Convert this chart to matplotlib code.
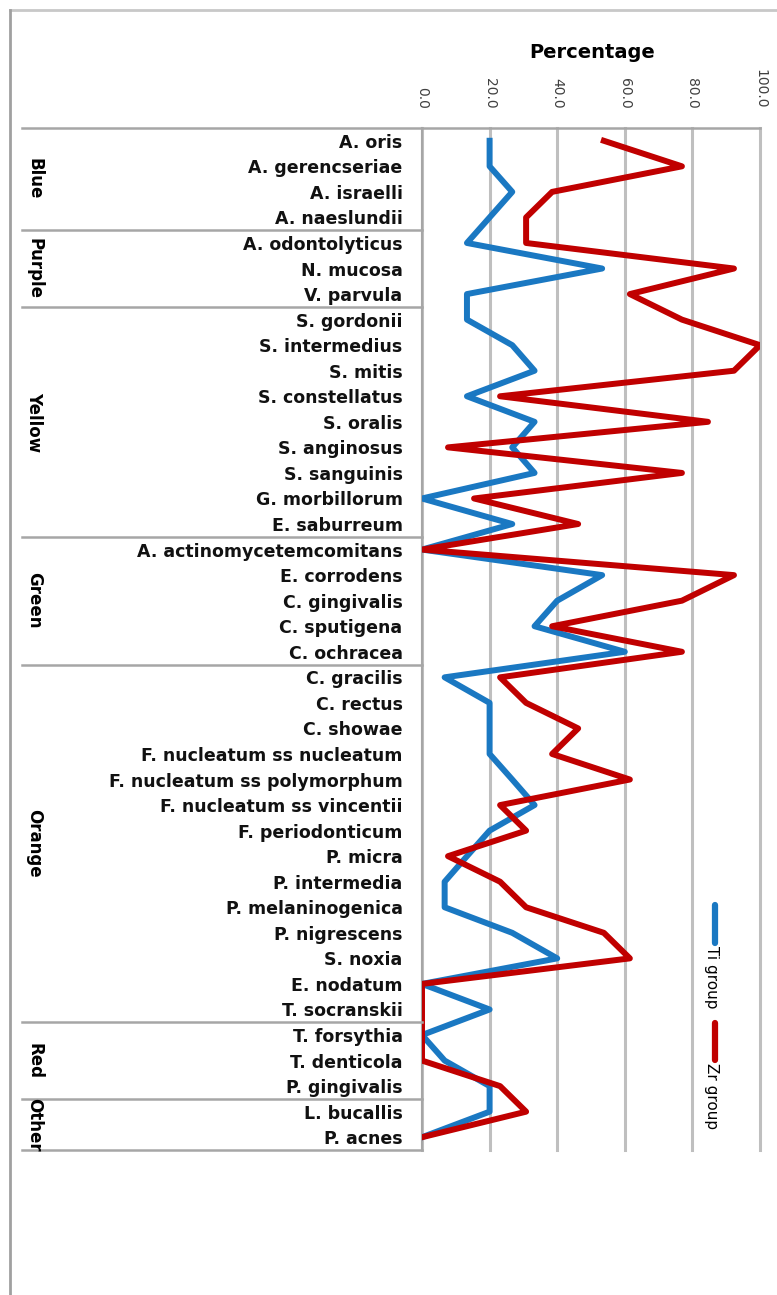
import matplotlib
matplotlib.use("Agg")
import matplotlib.pyplot as plt
from matplotlib.lines import Line2D
import matplotlib.transforms as mtransforms

# ---------------- data ----------------
species = [
    "A. oris", "A. gerencseriae", "A. israelli", "A. naeslundii",
    "A. odontolyticus", "N. mucosa", "V. parvula",
    "S. gordonii", "S. intermedius", "S. mitis", "S. constellatus", "S. oralis",
    "S. anginosus", "S. sanguinis", "G. morbillorum", "E. saburreum",
    "A. actinomycetemcomitans", "E. corrodens", "C. gingivalis", "C. sputigena",
    "C. ochracea",
    "C. gracilis", "C. rectus", "C. showae", "F. nucleatum ss nucleatum",
    "F. nucleatum ss polymorphum", "F. nucleatum ss vincentii", "F. periodonticum",
    "P. micra", "P. intermedia", "P. melaninogenica", "P. nigrescens", "S. noxia",
    "E. nodatum", "T. socranskii",
    "T. forsythia", "T. denticola", "P. gingivalis",
    "L. bucallis", "P. acnes",
]
group_names = ["Blue", "Purple", "Yellow", "Green", "Orange", "Red", "Other"]
group_sizes = [4, 3, 9, 5, 14, 3, 2]

ti_group = [20, 20, 26.7, 20, 13.3, 53.3, 13.3,
            13.3, 26.7, 33.3, 13.3, 33.3, 26.7, 33.3, 0, 26.7,
            0, 53.3, 40, 33.3, 60,
            6.7, 20, 20, 20, 26.7, 33.3, 20, 13.3, 6.7, 6.7, 26.7, 40, 0, 20,
            0, 6.7, 20,
            20, 0]
zr_group = [53.8, 76.9, 38.5, 30.8, 30.8, 92.3, 61.5,
            76.9, 100, 92.3, 23.1, 84.6, 7.7, 76.9, 15.4, 46.2,
            0, 92.3, 76.9, 38.5, 76.9,
            23.1, 30.8, 46.2, 38.5, 61.5, 23.1, 30.8, 7.7, 23.1, 30.8, 53.8, 61.5, 0, 0,
            0, 0, 23.1,
            30.8, 0]
x_ticks = [0, 20, 40, 60, 80, 100]
series_names = ["Ti group", "Zr group"]

# ---------------- figure ----------------
W, H = 777, 1295
fig = plt.figure(figsize=(W / 100, H / 100), dpi=100)
fig.patch.set_facecolor("white")


def fx(px):
    return px / W


def fy(py):
    return 1 - py / H


BLUE = "#1a78c2"
RED = "#c00000"
GRID = "#bfbfbf"
FONT = "DejaVu Sans"

ax = fig.add_axes([fx(422), fy(1150), fx(760) - fx(422), fy(128) - fy(1150)])
n = len(species)
ys = list(range(n))

ax.plot(ti_group, ys, color=BLUE, lw=4.3, solid_joinstyle="round", zorder=3)
ax.plot(zr_group, ys, color=RED, lw=4.3, solid_joinstyle="round", zorder=4)

ax.set_xlim(0, 100)
ax.set_ylim(n - 0.5, -0.5)
ax.set_xticks(x_ticks)
ax.xaxis.tick_top()
ax.set_xticklabels([f"{v:.1f}" for v in x_ticks], rotation=270,
                   fontsize=10, color="#404040", family=FONT)
ax.tick_params(axis="x", length=0, pad=14)
ax.grid(axis="x", color=GRID, lw=2.2, zorder=0)
for gl in ax.get_xgridlines():
    gl.set_clip_on(False)

ax.set_yticks(ys)
ax.set_yticklabels(species, fontweight="bold", fontsize=12.5, family=FONT,
                   color="#111111")
ax.tick_params(axis="y", length=0, pad=14)

for s in ["top", "right", "bottom"]:
    ax.spines[s].set_visible(False)
ax.spines["left"].set_color("#a6a6a6")
ax.spines["left"].set_linewidth(1.5)

# Title
fig.text(fx(592), fy(52), "Percentage", ha="center", va="center",
         fontsize=14, fontweight="bold", family=FONT)

# plot-area top line
fig.add_artist(Line2D([fx(22), fx(760)], [fy(128), fy(128)], color="#a6a6a6",
                      lw=1.8, transform=fig.transFigure))

# group labels and separators
blend = mtransforms.blended_transform_factory(fig.transFigure, ax.transData)
start = 0
for name, size in zip(group_names, group_sizes):
    center = start + size / 2 - 0.5
    fig.text(fx(34), center, name, transform=blend, rotation=270,
             ha="center", va="center", fontsize=12, fontweight="bold",
             family=FONT)
    end = start + size - 0.5
    fig.add_artist(Line2D([fx(22), fx(422)], [end, end], color="#a6a6a6",
                          lw=1.8, transform=blend))
    start += size

# outer frame
fig.add_artist(Line2D([fx(10), fx(777)], [fy(10), fy(10)], color="#c8c8c8",
                      lw=2, transform=fig.transFigure))
fig.add_artist(Line2D([fx(10), fx(10)], [fy(10), fy(1295)], color="#a0a0a0",
                      lw=2, transform=fig.transFigure))

# legend (rotated)
leg = [(BLUE, 905, 943, series_names[0]), (RED, 1023, 1060, series_names[1])]
for col, y0, y1, lab in leg:
    fig.add_artist(Line2D([fx(715), fx(715)], [fy(y0), fy(y1)], color=col,
                          lw=4.5, solid_capstyle="round",
                          transform=fig.transFigure))
    fig.text(fx(712), fy(y1 + 3), lab, rotation=270, ha="center", va="top",
             fontsize=11, family=FONT)

fig.savefig("out.png", dpi=100, facecolor="white")
